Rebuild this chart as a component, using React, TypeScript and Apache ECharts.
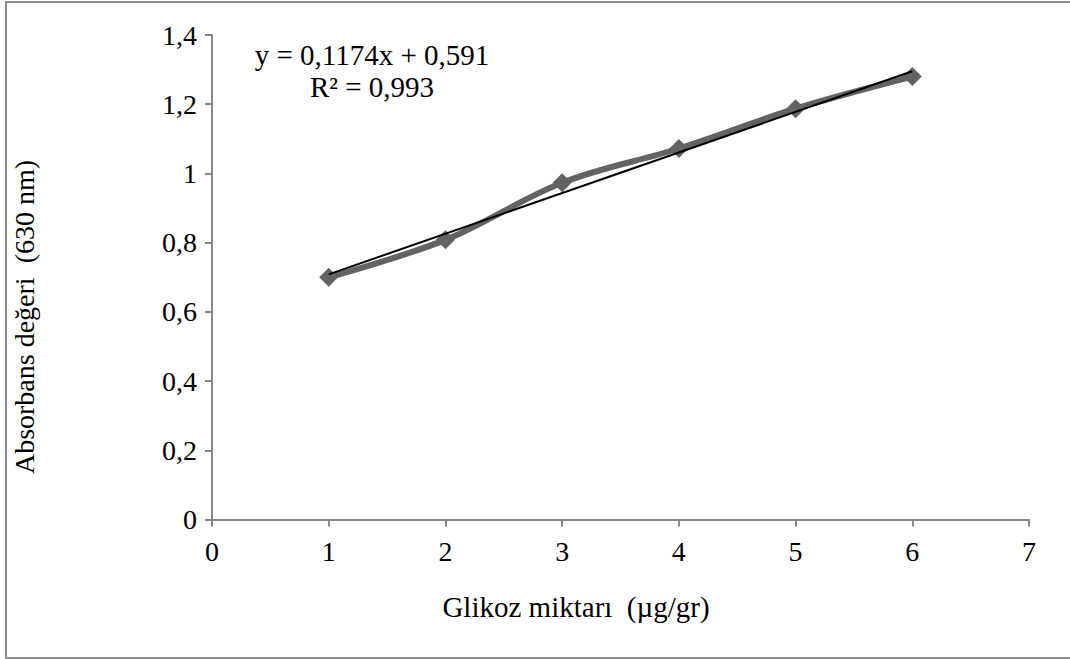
import React, { useEffect, useRef } from "react";
import * as echarts from "echarts";

const xValues = [1, 2, 3, 4, 5, 6];
const absorbance = [0.70, 0.808, 0.973, 1.072, 1.187, 1.28];
const yTicks = ["0", "0,2", "0,4", "0,6", "0,8", "1", "1,2", "1,4"];
const trendSlope = 0.1174;
const trendIntercept = 0.591;
const equationText = "y = 0,1174x + 0,591";
const r2Text = "R² = 0,993";
const xTitle = "Glikoz miktarı  (µg/gr)";
const yTitle = "Absorbans değeri  (630 nm)";

const FONT = "'Liberation Serif', 'Times New Roman', serif";
const FS = 28;
const FS_H = 29;

export default function App() {
  const ref = useRef<HTMLDivElement>(null);
  useEffect(() => {
    document.body.style.margin = "0";
    const chart = echarts.init(ref.current!, null, { renderer: "svg" });
    const trendData = [xValues[0], xValues[xValues.length - 1]].map((x) => [x, trendSlope * x + trendIntercept]);
    chart.setOption({
      animation: false,
      backgroundColor: "#ffffff",
      textStyle: { fontFamily: FONT },
      grid: { left: 212, right: 41, top: 35, bottom: 139.5, containLabel: false, outerBoundsMode: "none" },
      xAxis: {
        type: "value",
        min: 0,
        max: 7,
        interval: 1,
        splitLine: { show: false },
        axisLine: { show: true, lineStyle: { color: "#868686", width: 2 } },
        axisTick: { show: true, length: 7, lineStyle: { color: "#868686", width: 2 } },
        axisLabel: { color: "#000", fontSize: FS, fontFamily: FONT, margin: 18 },
      },
      yAxis: {
        type: "value",
        min: 0,
        max: 1.4,
        interval: 0.2,
        splitLine: { show: false },
        axisLine: { show: true, lineStyle: { color: "#868686", width: 2 } },
        axisTick: { show: true, length: 7, lineStyle: { color: "#868686", width: 2 } },
        axisLabel: {
          color: "#000",
          fontSize: FS,
          fontFamily: FONT,
          margin: 15,
          formatter: (v: number) => yTicks[Math.round(v / 0.2)] ?? "",
        },
      },
      series: [
        {
          type: "line",
          data: xValues.map((x, i) => [x, absorbance[i]]),
          smooth: 0.35,
          symbol: "diamond",
          symbolSize: 19,
          lineStyle: { color: "#636363", width: 6 },
          itemStyle: { color: "#636363" },
          z: 2,
        },
        {
          type: "line",
          data: trendData,
          symbol: "none",
          lineStyle: { color: "#000000", width: 2 },
          z: 3,
        },
      ],
      graphic: [
        {
          type: "polyline",
          shape: { points: [[1075, 2], [6, 2], [6, 658], [1075, 658]] },
          style: { stroke: "#8c8c8c", lineWidth: 2, fill: "none" },
          silent: true,
        },
        {
          type: "text",
          x: 372,
          y: 55,
          style: { text: equationText, fontSize: FS_H, fontFamily: FONT, fill: "#000", align: "center", verticalAlign: "middle" },
        },
        {
          type: "text",
          x: 372,
          y: 87,
          style: { text: r2Text, fontSize: FS_H, fontFamily: FONT, fill: "#000", align: "center", verticalAlign: "middle" },
        },
        {
          type: "text",
          x: 576,
          y: 607,
          style: { text: xTitle, fontSize: FS_H, fontFamily: FONT, fill: "#000", align: "center", verticalAlign: "middle" },
        },
        {
          type: "text",
          x: 24,
          y: 317,
          rotation: Math.PI / 2,
          style: { text: yTitle, fontSize: FS, fontFamily: FONT, fill: "#000", align: "center", verticalAlign: "middle" },
        },
      ],
    });
    return () => chart.dispose();
  }, []);
  return <div ref={ref} style={{ width: 1070, height: 659 }} />;
}
